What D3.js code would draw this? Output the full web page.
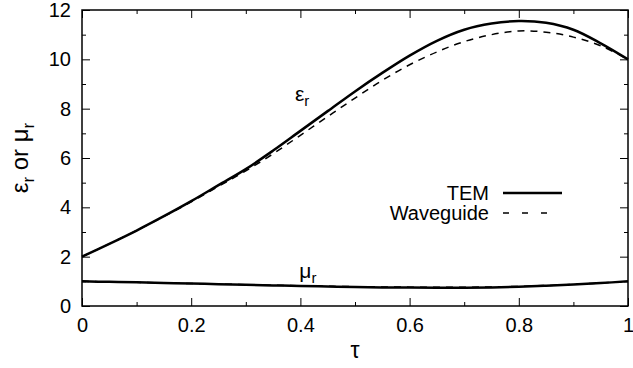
<!DOCTYPE html>
<html>
<head>
<meta charset="utf-8">
<script src="https://cdn.jsdelivr.net/npm/d3@7"></script>
<style>
  body { margin: 0; background: #fff; }
  text { font-family: "Liberation Sans", Arial, sans-serif; fill: #000; }
</style>
</head>
<body>
<svg id="chart" width="633" height="368"></svg>
<script>
// tau samples shared by every curve
const tau = [0, 0.05, 0.1, 0.15, 0.2, 0.25, 0.3, 0.35, 0.4, 0.45, 0.5,
  0.55, 0.6, 0.65, 0.7, 0.75, 0.8, 0.85, 0.9, 0.95, 1];

const epsTEM = [2.0, 2.52, 3.06, 3.64, 4.25, 4.9, 5.55, 6.3, 7.1, 7.9, 8.7,
  9.45, 10.15, 10.75, 11.2, 11.45, 11.55, 11.48, 11.2, 10.65, 10.0];
const epsWG = [2.0, 2.52, 3.06, 3.63, 4.22, 4.85, 5.48, 6.17, 6.92, 7.68, 8.43,
  9.15, 9.78, 10.3, 10.72, 11.0, 11.15, 11.1, 10.9, 10.55, 10.0];
const muTEM = [1.0, 0.98, 0.96, 0.935, 0.91, 0.885, 0.86, 0.835, 0.81, 0.79, 0.77,
  0.755, 0.745, 0.74, 0.74, 0.755, 0.78, 0.82, 0.87, 0.93, 1.0];
const muWG = [1.0, 0.98, 0.96, 0.935, 0.91, 0.888, 0.865, 0.842, 0.82, 0.8, 0.785,
  0.773, 0.765, 0.76, 0.76, 0.773, 0.795, 0.83, 0.875, 0.935, 1.0];

const xTicks = [0, 0.2, 0.4, 0.6, 0.8, 1];
const xMinor = [0.1, 0.3, 0.5, 0.7, 0.9];
const yTicks = [0, 2, 4, 6, 8, 10, 12];
const yMinor = [1, 3, 5, 7, 9, 11];

const series = [
  { name: 'TEM', eps: epsTEM, mu: muTEM, width: 2.5, dash: null },
  { name: 'Waveguide', eps: epsWG, mu: muWG, width: 1.5, dash: '7,6' },
];

const margin = { top: 10, right: 5, bottom: 62, left: 82 };
const width = 633, height = 368;

const svg = d3.select('#chart');

const x = d3.scaleLinear().domain([0, 1]).range([margin.left, width - margin.right]);
const y = d3.scaleLinear().domain([0, 12]).range([height - margin.bottom, margin.top]);

const line = d3.line()
  .x((d) => x(d[0]))
  .y((d) => y(d[1]))
  .curve(d3.curveCatmullRom);

// curves (waveguide first so TEM sits on top)
[...series].reverse().forEach((s) => {
  [s.eps, s.mu].forEach((vals) => {
    svg.append('path')
      .datum(tau.map((t, i) => [t, vals[i]]))
      .attr('fill', 'none')
      .attr('stroke', '#000')
      .attr('stroke-width', s.width)
      .attr('stroke-dasharray', s.dash)
      .attr('d', line);
  });
});

// axes with inward ticks, mirrored on top and right
function styleAxis(g) {
  g.select('.domain').remove();
  g.selectAll('.tick line').attr('stroke', '#000').attr('stroke-width', 1);
  g.selectAll('.tick text').style('font-size', '20px');
}

const bottom = svg.append('g')
  .attr('transform', `translate(0,${y(0)})`)
  .call(d3.axisBottom(x).tickValues(xTicks).tickSize(-8).tickPadding(9)
    .tickFormat(d3.format('~g')));
bottom.call(styleAxis);
bottom.selectAll('.tick text').attr('dy', '0.85em');

svg.append('g')
  .attr('transform', `translate(0,${y(0)})`)
  .call(d3.axisBottom(x).tickValues(xMinor).tickSize(-4).tickFormat(''))
  .call(styleAxis);

svg.append('g')
  .attr('transform', `translate(0,${y(12)})`)
  .call(d3.axisTop(x).tickValues(xTicks).tickSize(-8).tickFormat(''))
  .call(styleAxis);
svg.append('g')
  .attr('transform', `translate(0,${y(12)})`)
  .call(d3.axisTop(x).tickValues(xMinor).tickSize(-4).tickFormat(''))
  .call(styleAxis);

svg.append('g')
  .attr('transform', `translate(${x(0)},0)`)
  .call(d3.axisLeft(y).tickValues(yTicks).tickSize(-8).tickPadding(11))
  .call(styleAxis);
svg.append('g')
  .attr('transform', `translate(${x(0)},0)`)
  .call(d3.axisLeft(y).tickValues(yMinor).tickSize(-4).tickFormat(''))
  .call(styleAxis);

svg.append('g')
  .attr('transform', `translate(${x(1)},0)`)
  .call(d3.axisRight(y).tickValues(yTicks).tickSize(-8).tickFormat(''))
  .call(styleAxis);
svg.append('g')
  .attr('transform', `translate(${x(1)},0)`)
  .call(d3.axisRight(y).tickValues(yMinor).tickSize(-4).tickFormat(''))
  .call(styleAxis);

// frame
svg.append('rect')
  .attr('x', x(0)).attr('y', y(12))
  .attr('width', x(1) - x(0)).attr('height', y(0) - y(12))
  .attr('fill', 'none').attr('stroke', '#000').attr('stroke-width', 1.5);

// axis titles
svg.append('text')
  .attr('x', (x(0) + x(1)) / 2).attr('y', 358)
  .attr('text-anchor', 'middle')
  .style('font-size', '23px')
  .text('τ');

const yt = svg.append('text')
  .attr('transform', `translate(28,${(y(0) + y(12)) / 2}) rotate(-90)`)
  .attr('text-anchor', 'middle')
  .style('font-size', '24px');
yt.append('tspan').text('ε');
yt.append('tspan').attr('dy', 6).style('font-size', '17px').text('r');
yt.append('tspan').attr('dy', -6).text(' or μ');
yt.append('tspan').attr('dy', 6).style('font-size', '17px').text('r');

// curve labels
function curveLabel(sym, tx, ty) {
  const t = svg.append('text').attr('x', tx).attr('y', ty).style('font-size', '21px');
  t.append('tspan').text(sym);
  t.append('tspan').attr('dy', 5).style('font-size', '15px').text('r');
}
curveLabel('ε', x(0.39), y(8.3));
curveLabel('μ', x(0.398), y(1.15));

// legend
const legend = svg.append('g');
series.forEach((s, i) => {
  const ly = 193 + i * 20;
  legend.append('text')
    .attr('x', 489).attr('y', ly).attr('dy', '0.35em')
    .attr('text-anchor', 'end')
    .style('font-size', '20px')
    .text(s.name);
  legend.append('line')
    .attr('x1', 503).attr('x2', s.dash ? 550 : 562).attr('y1', ly).attr('y2', ly)
    .attr('stroke', '#000')
    .attr('stroke-width', s.width)
    .attr('stroke-dasharray', s.dash ? '6,13' : null);
});
</script>
</body>
</html>
